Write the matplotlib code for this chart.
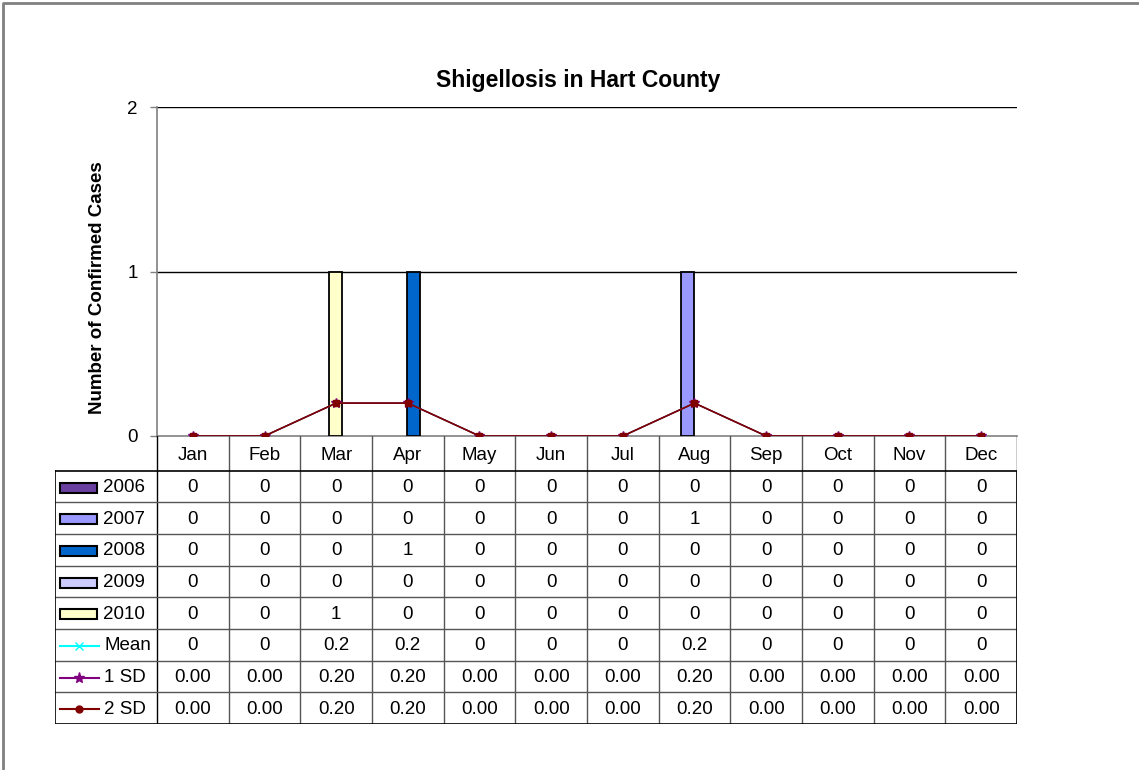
import numpy as np
import matplotlib
matplotlib.use("Agg")
import matplotlib.pyplot as plt
from matplotlib.lines import Line2D
from matplotlib.patches import Rectangle

plt.rcParams['font.family'] = ['Liberation Sans', 'DejaVu Sans']

# data
months = ["Jan", "Feb", "Mar", "Apr", "May", "Jun", "Jul", "Aug", "Sep", "Oct", "Nov", "Dec"]
years = ["2006", "2007", "2008", "2009", "2010"]
cases_2006 = [0, 0, 0, 0, 0, 0, 0, 0, 0, 0, 0, 0]
cases_2007 = [0, 0, 0, 0, 0, 0, 0, 1, 0, 0, 0, 0]
cases_2008 = [0, 0, 0, 1, 0, 0, 0, 0, 0, 0, 0, 0]
cases_2009 = [0, 0, 0, 0, 0, 0, 0, 0, 0, 0, 0, 0]
cases_2010 = [0, 0, 1, 0, 0, 0, 0, 0, 0, 0, 0, 0]
mean_vals = [0, 0, 0.2, 0.2, 0, 0, 0, 0.2, 0, 0, 0, 0]
sd1_vals = [0.0, 0.0, 0.2, 0.2, 0.0, 0.0, 0.0, 0.2, 0.0, 0.0, 0.0, 0.0]
sd2_vals = [0.0, 0.0, 0.2, 0.2, 0.0, 0.0, 0.0, 0.2, 0.0, 0.0, 0.0, 0.0]
yticks = [0, 1, 2]

year_data = [cases_2006, cases_2007, cases_2008, cases_2009, cases_2010]
year_colors = ["#6B3FA0", "#9999FF", "#0066CC", "#CCCCFF", "#FFFFCC"]
# bar offsets within a month slot (as seen in the original)
year_offsets = [-0.05, -0.093, 0.074, 0.03, -0.007]
bar_w = 0.18

W, H = 1139, 770
fig = plt.figure(figsize=(W / 100, H / 100), dpi=100)

def fx(px):
    return px / W

def fy(py):
    return 1 - py / H

# frame of the chart object
fig.add_artist(Line2D([fx(3), fx(3), 1], [0, fy(3), fy(3)], color="#808080", lw=2,
                      transform=fig.transFigure))

L, R, T, B = 157, 1017, 107, 436
ax = fig.add_axes([fx(L), fy(B), fx(R - L), (B - T) / H])
x = np.arange(len(months)) + 0.5

for vals, col, off in zip(year_data, year_colors, year_offsets):
    v = np.array(vals)
    m = v > 0
    ax.bar(x[m] + off, v[m], width=bar_w, color=col, edgecolor="black", lw=1.3, zorder=3)

ax.plot(x, mean_vals, color="#00FFFF", marker="x", ms=5, lw=1, zorder=4)
ax.plot(x, sd1_vals, color="#800080", marker="*", ms=7, lw=1, zorder=5)
ax.plot(x, sd2_vals, color="#800000", marker="s", ms=4.5, lw=1.2, zorder=6)

ax.set_xlim(0, 12)
ax.set_ylim(0, 2)
ax.set_yticks(yticks)
ax.set_yticklabels([str(t) for t in yticks], fontsize=13.5)
ax.tick_params(axis="y", length=5, width=1, color="#808080", pad=9)
ax.set_xticks([])
for y in yticks[1:]:
    ax.axhline(y, color="black", lw=1, zorder=1)
for s in ["top", "right"]:
    ax.spines[s].set_visible(False)
ax.spines["left"].set_color("#808080")
ax.spines["bottom"].set_color("#808080")
ax.spines["left"].set_linewidth(1.2)
ax.spines["bottom"].set_linewidth(1.2)
ax.patch.set_alpha(0)

fig.text(fx(578), fy(81), "Shigellosis in Hart County", fontsize=16.5, fontweight="bold",
         ha="center", va="center")
fig.text(fx(98), fy(288), "Number of Confirmed Cases", fontsize=13.5, fontweight="bold",
         rotation=90, ha="center", va="center")

# data table
TL, TB, HB = 55, 724, 470.7
tax = fig.add_axes([fx(TL), fy(TB), fx(R - TL), (TB - B) / H])
tax.set_xlim(TL, R)
tax.set_ylim(TB, B)
tax.axis("off")
colw = (R - L) / len(months)
row_labels = years + ["Mean", "1 SD", "2 SD"]
rowh = (TB - HB) / len(row_labels)

for k in range(len(months) + 1):
    tax.plot([L + k * colw] * 2, [B, TB], color="#555555" if 0 < k < 12 else "black", lw=1)
for i in range(1, len(row_labels)):
    tax.plot([TL, R], [HB + i * rowh] * 2, color="#555555", lw=1)
tax.plot([TL, R, R, TL, TL], [HB, HB, TB, TB, HB], color="black", lw=1.2)

for k, mth in enumerate(months):
    tax.text(L + (k + 0.5) * colw, (B + HB) / 2 + 2, mth, fontsize=13.5, ha="center", va="center")

table_rows = [[str(v) for v in d] for d in year_data]
table_rows.append([("%g" % v) for v in mean_vals])
table_rows.append([("%.2f" % v) for v in sd1_vals])
table_rows.append([("%.2f" % v) for v in sd2_vals])

for i, (lab, row) in enumerate(zip(row_labels, table_rows)):
    cy = HB + (i + 0.5) * rowh + 1
    for k, txt in enumerate(row):
        tax.text(L + (k + 0.5) * colw, cy, txt, fontsize=13.5, ha="center", va="center")
    if i < len(years):
        tax.add_patch(Rectangle((60, cy - 5), 37, 10, facecolor=year_colors[i],
                                edgecolor="black", lw=1.5))
        tax.text(103, cy, lab, fontsize=13.5, ha="left", va="center")
    else:
        col, mk, ms = [("#00FFFF", "x", 6), ("#800080", "*", 8), ("#800000", "o", 5)][i - len(years)]
        tax.plot([60, 99], [cy, cy], color=col, lw=1.5)
        tax.plot([79], [cy], color=col, marker=mk, ms=ms)
        tax.text(104, cy, lab, fontsize=13.5, ha="left", va="center")

fig.savefig("out.png", dpi=100)
